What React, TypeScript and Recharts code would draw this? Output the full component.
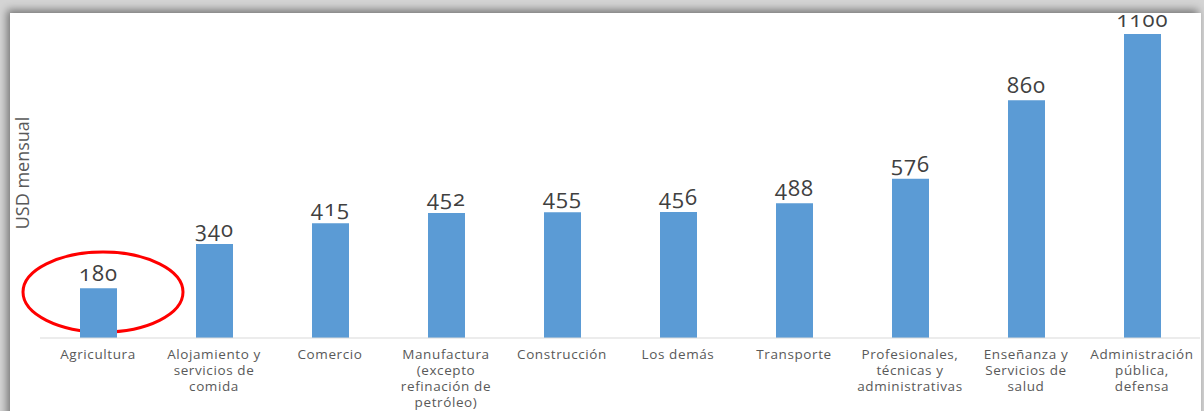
import { Bar, BarChart, LabelList, ReferenceDot, XAxis, YAxis } from 'recharts';

const categories = [
  'Agricultura',
  'Alojamiento y servicios de comida',
  'Comercio',
  'Manufactura (excepto refinación de petróleo)',
  'Construcción',
  'Los demás',
  'Transporte',
  'Profesionales, técnicas y administrativas',
  'Enseñanza y Servicios de salud',
  'Administración pública, defensa',
];

const tickLines = [
  ['Agricultura'],
  ['Alojamiento y', 'servicios de', 'comida'],
  ['Comercio'],
  ['Manufactura', '(excepto', 'refinación de', 'petróleo)'],
  ['Construcción'],
  ['Los demás'],
  ['Transporte'],
  ['Profesionales,', 'técnicas y', 'administrativas'],
  ['Enseñanza y', 'Servicios de', 'salud'],
  ['Administración', 'pública,', 'defensa'],
];

const salaries = [180, 340, 415, 452, 455, 456, 488, 576, 860, 1100];

const data = categories.map((name, i) => ({ name, value: salaries[i] }));

const BAR_COLOR = '#5B9BD5';
const FONT = '"Open Sans", "Noto Sans", sans-serif';

function CategoryTick({ x, y, index }: any) {
  const lines = tickLines[index] ?? [];
  return (
    <text x={x} y={y + 13} textAnchor="middle" fontFamily={FONT} fontSize={13.5} letterSpacing={0.6} fill="#595959">
      {lines.map((line, i) => (
        <tspan key={i} x={x} dy={i === 0 ? 0 : 16}>
          {line}
        </tspan>
      ))}
    </text>
  );
}

function AxisTitle({ viewBox }: any) {
  const cx = viewBox.x + viewBox.width / 2 + 2;
  const cy = viewBox.y + viewBox.height / 2 - 13;
  return (
    <text
      x={cx}
      y={cy}
      transform={`rotate(-90 ${cx} ${cy})`}
      textAnchor="middle"
      dominantBaseline="central"
      fontFamily={FONT}
      fontSize={18}
      fill="#595959"
    >
      USD mensual
    </text>
  );
}

export default function App() {
  return (
    <div style={{ position: 'absolute', left: 0, top: 0, width: 1204, height: 411, overflow: 'hidden', background: '#d4d4d4' }}>
      <div
        style={{
          position: 'absolute',
          left: 10,
          top: 13,
          width: 1191,
          height: 420,
          background: '#fff',
          boxShadow: '-3px -3px 8px rgba(0,0,0,0.45)',
        }}
      />
      <div style={{ position: 'absolute', left: 0, top: 0 }}>
        <BarChart width={1204} height={411} data={data} margin={{ top: 34, right: 4, left: 0, bottom: 43 }} barCategoryGap="0%">
          <YAxis
            domain={[0, 1100]}
            width={40}
            tick={false}
            axisLine={false}
            tickLine={false}
            label={<AxisTitle />}
          />
          <XAxis
            dataKey="name"
            interval={0}
            height={30}
            tickLine={false}
            axisLine={{ stroke: '#D9D9D9' }}
            tick={<CategoryTick />}
          />
          <ReferenceDot
            x={categories[0]}
            y={166}
            r={1}
            zIndex={100}
            shape={(p: any) => (
              <ellipse cx={p.cx + 5} cy={p.cy} rx={80} ry={40} fill="none" stroke="#FF0000" strokeWidth={3} />
            )}
          />
          <Bar dataKey="value" fill={BAR_COLOR} barSize={37} isAnimationActive={false}>
            <LabelList
              dataKey="value"
              position="top"
              offset={7}
              fontFamily={FONT}
              fontSize={22}
              letterSpacing={1}
              fill="#404040"
              style={{ fontVariantNumeric: 'oldstyle-nums' }}
            />
          </Bar>
        </BarChart>
      </div>
    </div>
  );
}
